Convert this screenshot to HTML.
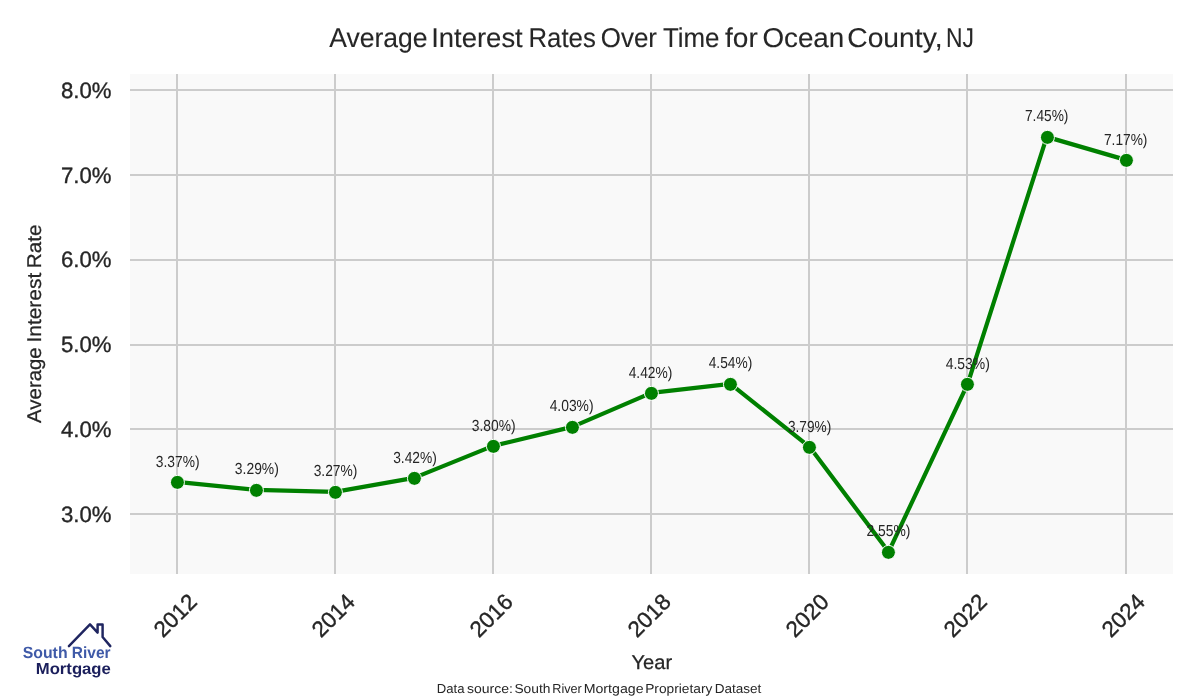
<!DOCTYPE html>
<html lang="en"><head><meta charset="utf-8"><title>Average Interest Rates Over Time for Ocean County, NJ</title>
<style>html,body{margin:0;padding:0;background:#fff;}body{width:1200px;height:700px;overflow:hidden;}svg{display:block;}text{font-family:"Liberation Sans",Arial,sans-serif;fill:#262626;text-rendering:geometricPrecision;}</style>
</head><body>
<svg width="1200" height="700" viewBox="0 0 1200 700">
<rect x="0" y="0" width="1200" height="700" fill="#ffffff"/>
<rect x="130" y="74" width="1043" height="500" fill="#f9f9f9"/>
<g stroke="#cccccc" stroke-width="2" fill="none">
<line x1="177" y1="74" x2="177" y2="574"/>
<line x1="335" y1="74" x2="335" y2="574"/>
<line x1="493" y1="74" x2="493" y2="574"/>
<line x1="651" y1="74" x2="651" y2="574"/>
<line x1="809" y1="74" x2="809" y2="574"/>
<line x1="967" y1="74" x2="967" y2="574"/>
<line x1="1126" y1="74" x2="1126" y2="574"/>
<line x1="130" y1="90" x2="1173" y2="90"/>
<line x1="130" y1="175" x2="1173" y2="175"/>
<line x1="130" y1="260" x2="1173" y2="260"/>
<line x1="130" y1="345" x2="1173" y2="345"/>
<line x1="130" y1="429" x2="1173" y2="429"/>
<line x1="130" y1="514" x2="1173" y2="514"/>
</g>
<text id="title" y="46.9" font-size="27.2" stroke="#262626" stroke-width="0.1"><tspan x="329.20" textLength="98.35" lengthAdjust="spacingAndGlyphs">Average</tspan> <tspan x="431.17" textLength="91.60" lengthAdjust="spacingAndGlyphs">Interest</tspan> <tspan x="528.47" textLength="67.31" lengthAdjust="spacingAndGlyphs">Rates</tspan> <tspan x="600.81" textLength="56.19" lengthAdjust="spacingAndGlyphs">Over</tspan> <tspan x="662.92" textLength="56.58" lengthAdjust="spacingAndGlyphs">Time</tspan> <tspan x="725.08" textLength="32.71" lengthAdjust="spacingAndGlyphs">for</tspan> <tspan x="762.42" textLength="81.88" lengthAdjust="spacingAndGlyphs">Ocean</tspan> <tspan x="847.24" textLength="95.29" lengthAdjust="spacingAndGlyphs">County,</tspan> <tspan x="946.01" textLength="27.96" lengthAdjust="spacingAndGlyphs">NJ</tspan></text>
<g font-size="22.2" text-anchor="end" stroke="#262626" stroke-width="0.35">
<text x="111.6" y="97.90">8.0%</text>
<text x="111.6" y="182.67">7.0%</text>
<text x="111.6" y="267.44">6.0%</text>
<text x="111.6" y="352.21">5.0%</text>
<text x="111.6" y="436.98">4.0%</text>
<text x="111.6" y="521.75">3.0%</text>
</g>
<g font-size="22.4" text-anchor="middle" stroke="#262626" stroke-width="0.35">
<text transform="translate(174.90,615.15) rotate(-45)" y="8.1">2012</text>
<text transform="translate(332.90,615.15) rotate(-45)" y="8.1">2014</text>
<text transform="translate(490.90,615.15) rotate(-45)" y="8.1">2016</text>
<text transform="translate(648.90,615.15) rotate(-45)" y="8.1">2018</text>
<text transform="translate(806.90,615.15) rotate(-45)" y="8.1">2020</text>
<text transform="translate(964.90,615.15) rotate(-45)" y="8.1">2022</text>
<text transform="translate(1122.90,615.15) rotate(-45)" y="8.1">2024</text>
</g>
<text id="xlabel" y="668.7" font-size="19.9" stroke="#262626" stroke-width="0.25"><tspan x="631.49" textLength="40.72" lengthAdjust="spacingAndGlyphs">Year</tspan></text>
<text id="ylabel" transform="translate(40.8,422.9) rotate(-90)" font-size="19.9" stroke="#262626" stroke-width="0.25"><tspan x="0.00" textLength="75.61" lengthAdjust="spacingAndGlyphs">Average</tspan> <tspan x="80.36" textLength="69.74" lengthAdjust="spacingAndGlyphs">Interest</tspan> <tspan x="154.68" textLength="43.67" lengthAdjust="spacingAndGlyphs">Rate</tspan></text>
<text id="src" y="692.7" font-size="13"><tspan x="436.79" textLength="27.68" lengthAdjust="spacingAndGlyphs">Data</tspan> <tspan x="466.96" textLength="46.02" lengthAdjust="spacingAndGlyphs">source:</tspan> <tspan x="514.40" textLength="36.08" lengthAdjust="spacingAndGlyphs">South</tspan> <tspan x="552.33" textLength="29.51" lengthAdjust="spacingAndGlyphs">River</tspan> <tspan x="583.71" textLength="59.82" lengthAdjust="spacingAndGlyphs">Mortgage</tspan> <tspan x="645.19" textLength="67.14" lengthAdjust="spacingAndGlyphs">Proprietary</tspan> <tspan x="714.66" textLength="46.71" lengthAdjust="spacingAndGlyphs">Dataset</tspan></text>
<polyline points="176.85,481.86 255.93,489.86 335.02,491.86 414.10,477.86 493.18,445.86 572.26,426.86 651.35,392.86 730.43,383.86 809.51,446.86 888.60,551.86 967.68,383.86 1046.76,136.86 1125.85,159.86" fill="none" stroke="#008000" stroke-width="4.2" stroke-linejoin="round" stroke-linecap="round"/>
<g fill="#008000" stroke="#ffffff" stroke-width="1">
<circle cx="177.43" cy="482.36" r="7"/>
<circle cx="256.43" cy="490.36" r="7"/>
<circle cx="335.43" cy="492.36" r="7"/>
<circle cx="414.43" cy="478.36" r="7"/>
<circle cx="493.43" cy="446.36" r="7"/>
<circle cx="572.43" cy="427.36" r="7"/>
<circle cx="651.43" cy="393.36" r="7"/>
<circle cx="730.43" cy="384.36" r="7"/>
<circle cx="809.43" cy="447.36" r="7"/>
<circle cx="888.43" cy="552.36" r="7"/>
<circle cx="967.43" cy="384.36" r="7"/>
<circle cx="1047.43" cy="137.36" r="7"/>
<circle cx="1126.43" cy="160.36" r="7"/>
</g>
<g font-size="16">
<text x="155.85" y="467" textLength="43.72" lengthAdjust="spacingAndGlyphs">3.37%)</text>
<text x="234.85" y="474" textLength="43.98" lengthAdjust="spacingAndGlyphs">3.29%)</text>
<text x="313.65" y="476" textLength="43.67" lengthAdjust="spacingAndGlyphs">3.27%)</text>
<text x="393.15" y="463" textLength="43.67" lengthAdjust="spacingAndGlyphs">3.42%)</text>
<text x="471.85" y="431" textLength="43.77" lengthAdjust="spacingAndGlyphs">3.80%)</text>
<text x="549.68" y="411" textLength="43.84" lengthAdjust="spacingAndGlyphs">4.03%)</text>
<text x="628.68" y="378" textLength="43.74" lengthAdjust="spacingAndGlyphs">4.42%)</text>
<text x="708.69" y="368" textLength="43.53" lengthAdjust="spacingAndGlyphs">4.54%)</text>
<text x="787.96" y="432" textLength="43.25" lengthAdjust="spacingAndGlyphs">3.79%)</text>
<text x="866.45" y="536" textLength="43.98" lengthAdjust="spacingAndGlyphs">2.55%)</text>
<text x="945.68" y="369" textLength="44.15" lengthAdjust="spacingAndGlyphs">4.53%)</text>
<text x="1024.96" y="121" textLength="43.46" lengthAdjust="spacingAndGlyphs">7.45%)</text>
<text x="1103.96" y="145" textLength="43.46" lengthAdjust="spacingAndGlyphs">7.17%)</text>
</g>
<g id="logo">
<polyline points="68.9,646.1 90,624.4 97.6,632.6 97.6,624.5 102.6,624.5 102.6,637 110.3,646.1" fill="none" stroke="#1f2560" stroke-width="2.45" stroke-linejoin="round" stroke-linecap="round"/>
<text y="658.4" font-size="16.2" font-weight="bold" style="fill:#3f5aa8"><tspan x="22.71" textLength="44.87" lengthAdjust="spacingAndGlyphs">South</tspan> <tspan x="71.84" textLength="38.69" lengthAdjust="spacingAndGlyphs">River</tspan></text>
<text y="674.2" font-size="16" font-weight="bold" style="fill:#1b1f5c"><tspan x="35.76" textLength="75.06" lengthAdjust="spacingAndGlyphs">Mortgage</tspan></text>
</g>
</svg>
</body></html>
